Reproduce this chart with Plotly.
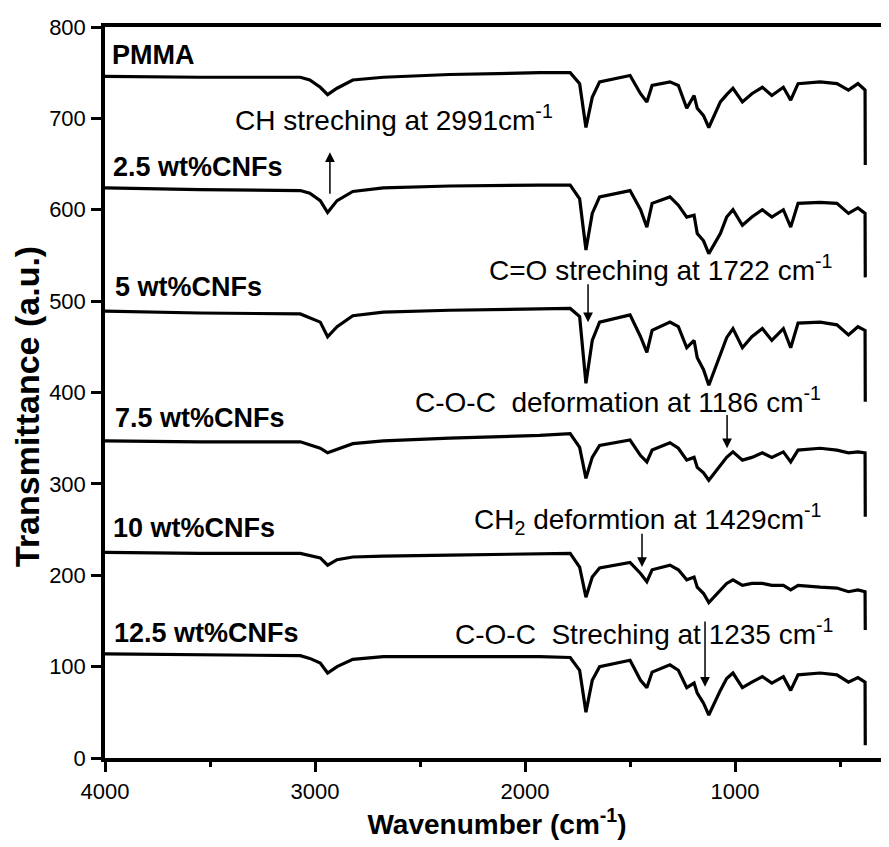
import plotly.graph_objects as go

# Wavenumber sample points (cm^-1)
wavenumber = [4000, 3550, 3070, 3025, 2975, 2940, 2895, 2820, 2675, 2360, 1930, 1785,
              1740, 1710, 1680, 1645, 1500, 1450, 1420, 1395, 1310, 1270, 1230, 1195,
              1180, 1150, 1125, 1070, 1040, 1010, 965, 920, 870, 825, 770, 735, 700,
              595, 515, 460, 415, 381, 380]

pmma = [746, 745, 745, 742, 734, 726, 733, 742, 745, 748, 750, 750,
        738, 690, 723, 740, 747, 727, 718, 736, 740, 736, 711, 725,
        711, 703, 690, 718, 726, 733, 718, 727, 734, 725, 734, 720, 738,
        740, 738, 731, 738, 731, 649]
cnf_2_5 = [624, 622, 621, 618, 610, 597, 610, 620, 624, 626, 627, 627,
           612, 556, 596, 614, 621, 600, 581, 607, 614, 605, 592, 594,
           574, 566, 552, 574, 592, 600, 583, 592, 600, 592, 600, 581, 607,
           608, 607, 596, 602, 596, 526]
cnf_5 = [489, 487, 486, 482, 477, 461, 472, 484, 488, 490, 492, 492,
         483, 410, 457, 477, 485, 461, 444, 468, 477, 472, 449, 457,
         438, 425, 408, 443, 460, 470, 449, 461, 470, 457, 470, 449, 476,
         477, 474, 463, 472, 468, 390]
cnf_7_5 = [347, 346, 346, 343, 339, 334, 338, 344, 347, 350, 353, 355,
           340, 306, 329, 342, 348, 331, 324, 337, 345, 339, 326, 329,
           318, 312, 304, 321, 329, 335, 326, 329, 334, 329, 335, 324, 337,
           339, 337, 334, 335, 334, 264]
cnf_10 = [225, 224, 224, 222, 219, 211, 217, 220, 221, 222, 223, 224,
          209, 176, 198, 208, 214, 202, 193, 206, 211, 206, 195, 198,
          187, 180, 170, 184, 191, 195, 189, 191, 191, 189, 189, 184, 189,
          187, 186, 182, 184, 182, 140]
cnf_12_5 = [114, 113, 112, 109, 104, 93, 100, 108, 111, 111, 111, 110,
            96, 50, 85, 100, 107, 85, 77, 94, 102, 96, 77, 82,
            71, 60, 47, 74, 87, 93, 77, 83, 89, 82, 89, 74, 91,
            93, 91, 83, 88, 83, 14]

series_names = ["PMMA", "2.5 wt%CNFs", "5 wt%CNFs", "7.5 wt%CNFs", "10 wt%CNFs", "12.5 wt%CNFs"]
series_values = [pmma, cnf_2_5, cnf_5, cnf_7_5, cnf_10, cnf_12_5]
label_x = [3978, 3970, 3962, 3962, 3970, 3966]
label_y = [769, 647, 515, 372, 252, 137]

x_ticks = [4000, 3000, 2000, 1000]
x_minor = [3500, 2500, 1500, 500]
y_ticks = [0, 100, 200, 300, 400, 500, 600, 700, 800]

# Band annotations: text, text left x, text y, arrow head (x, y), arrow tail (x, y)
band_texts = ["CH streching at 2991cm<sup>-1</sup>",
              "C=O streching at 1722 cm<sup>-1</sup>",
              "C-O-C\u00a0 deformation at 1186 cm<sup>-1</sup>",
              "CH<sub>2</sub> deformtion at 1429cm<sup>-1</sup>",
              "C-O-C\u00a0 Streching at 1235 cm<sup>-1</sup>"]
band_text_x = [3390, 2181, 2533, 2252, 2343]
band_text_y = [700, 536, 392, 262, 138]
arrow_x = [2929, 1700, 1038, 1443, 1143]
arrow_head_y = [663, 477, 339, 209, 78]
arrow_tail_y = [616, 520, 377, 247, 151]

FONT = "Arial, Liberation Sans, sans-serif"

fig = go.Figure()
for name, vals in zip(series_names, series_values):
    fig.add_trace(go.Scatter(x=wavenumber, y=vals, mode="lines", name=name,
                             line=dict(color="black", width=3.2), showlegend=False))

annotations = []
for name, lx, ly in zip(series_names, label_x, label_y):
    annotations.append(dict(x=lx, y=ly, xref="x", yref="y", text="<b>%s</b>" % name,
                            showarrow=False, xanchor="left", yanchor="middle",
                            font=dict(family=FONT, size=27, color="black")))
for t, tx, ty in zip(band_texts, band_text_x, band_text_y):
    annotations.append(dict(x=tx, y=ty, xref="x", yref="y", text=t, showarrow=False,
                            xanchor="left", yanchor="middle",
                            font=dict(family=FONT, size=28, color="black")))
for ax_, hy, ty in zip(arrow_x, arrow_head_y, arrow_tail_y):
    annotations.append(dict(x=ax_, y=hy, ax=ax_, ay=ty, xref="x", yref="y",
                            axref="x", ayref="y", text="", showarrow=True,
                            arrowhead=2, arrowsize=1.3, arrowwidth=1.5,
                            arrowcolor="black", standoff=0, startstandoff=0))
# y-axis title (placed as rotated text, slightly below the plot centre as in the original)
annotations.append(dict(x=-0.0995, y=0.4815, xref="paper", yref="paper",
                        text="<b>Transmittance (a.u.)</b>", textangle=-90, showarrow=False,
                        xanchor="center", yanchor="middle",
                        font=dict(family=FONT, size=34, color="black")))

# the page body adds an 8px offset, so the figure is sized/margined to compensate
fig.update_layout(
    width=881, height=839,
    margin=dict(l=97, r=0, t=19, b=89, autoexpand=False),
    paper_bgcolor="white", plot_bgcolor="white",
    font=dict(family=FONT, color="black"),
    annotations=annotations,
)
fig.update_xaxes(range=[4000, 267], tickvals=x_ticks, ticktext=[str(v) for v in x_ticks],
                 ticks="outside", ticklen=10, tickwidth=3, tickcolor="black",
                 showline=True, linewidth=3.5, linecolor="black", mirror=True,
                 showgrid=False, zeroline=False,
                 minor=dict(tickvals=x_minor, ticks="outside", ticklen=5, tickwidth=2.5,
                            tickcolor="black", showgrid=False),
                 tickfont=dict(family=FONT, size=22, color="black"),
                 ticklabelstandoff=1,
                 title=dict(text="<b>Wavenumber (cm<sup>-1</sup>)</b>",
                            font=dict(family=FONT, size=28, color="black"), standoff=2))
fig.update_yaxes(range=[0, 800], tickvals=y_ticks, ticktext=[str(v) for v in y_ticks],
                 ticks="outside", ticklen=10, tickwidth=3, tickcolor="black",
                 showline=True, linewidth=3.5, linecolor="black", mirror=False,
                 showgrid=False, zeroline=False,
                 tickfont=dict(family=FONT, size=22, color="black"),
                 ticklabelstandoff=1)

fig.write_html("out.html")
